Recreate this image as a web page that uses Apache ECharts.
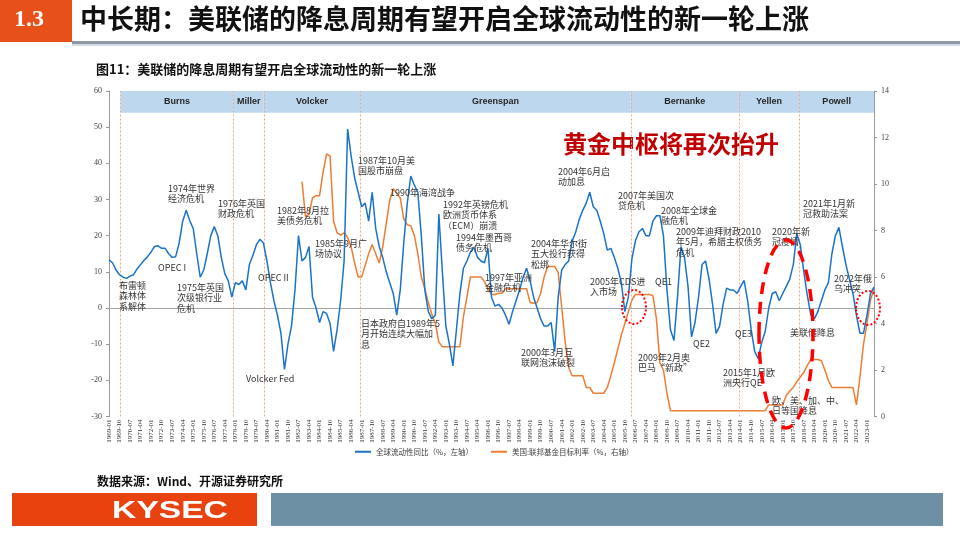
<!DOCTYPE html>
<html><head><meta charset="utf-8">
<script src="https://cdn.jsdelivr.net/npm/echarts@6/dist/echarts.min.js"></script>
<style>html,body{margin:0;padding:0;background:#fff}#c{width:960px;height:540px}</style>
</head><body><div id="c"></div>
<script>
// ---- data ----
const startYear = 1969;
const quarterMonths = ['01','04','07','10'];
const nQuarters = 219;
const categories = [];
for (let i = 0; i < nQuarters; i++) categories.push((startYear + Math.floor(i / 4)) + '-' + quarterMonths[i % 4]);

// 全球流动性同比（%，左轴）— quarterly readings
const liquidityYoY = [
 13.3,12.5,10.5,9.2,8.5,8.2,8.8,9.2,10.8,12,
 13.2,14.2,15.5,17,17.2,16.5,16.5,15,14,14.2,
 18,24,27,24.2,22,15,8.5,10.5,15,20,
 22.5,20,14,9.5,7.5,3,7,6.5,7.5,5,
 12,14.5,17.5,19,18,13,7,2,-2,-7,
 -17,-10,-5,5,20,13,14,17,3,0,
 -4,-1,-1.5,-4.3,-12,-6,2,13,49.5,42,
 36,32,28,29,24,32,22,17,14,10,
 7,4,-2,5,18,29,36.5,34,32,20,
 5,-1,-3,-2,26,10,-5,-10,-16,-6,
 4,11,13,15.5,16.8,14,13,12.5,16.5,3,
 0.5,1,0,-2,-4.5,-1,2,5,8.5,11,
 7.5,3,0,-3,-5,-5,-4,-12,3,10.5,
 12,13,18.5,21,24.5,27,29,32,28,27,
 24,20.5,16,16.5,14,11,7,-1,3,13.5,
 18.5,21,22,20,20,24,25.5,25.5,20,5,
 -6,-9,3,17,14,6,-8,-4,3,12,
 13,8,1,-7,-5,1,5.5,5,5,4,
 6,7.6,2,-6,-12,-14,-9.5,-6.5,0,4,
 4.5,2,4,6,8,12,20.5,17.5,10,3.5,
 -2,-3,-1,2,5,7,15,20,22.3,17,
 12,8,4,-2,-7,-7,-2,4,5.8
];

// 美国:联邦基金目标利率（%，右轴）
const fedFundsRate = [
 null,null,null,null,null,null,null,null,null,null,
 null,null,null,null,null,null,null,null,null,null,
 null,null,null,null,null,null,null,null,null,null,
 null,null,null,null,null,null,null,null,null,null,
 null,null,null,null,null,null,null,null,null,null,
 null,null,null,null,null,10.1,8.6,8.7,9.4,9.5,
 9.5,10.5,11.3,11.2,8.4,7.9,7.8,7.9,7.7,7.3,
 6.6,6.0,6.0,6.5,7.0,7.4,7.0,6.6,7.3,8.3,
 9.3,9.8,9.6,9.4,8.5,8.25,8.2,7.8,7.0,6.0,
 5.5,4.9,4.4,4.0,3.2,3.0,3.0,3.0,3.0,3.0,
 3.0,4.3,5.15,6.0,6.0,6.0,6.0,5.8,5.5,5.25,
 5.25,5.3,5.3,5.5,5.5,5.5,5.5,5.5,5.5,5.5,
 4.9,4.87,4.9,5.3,6.0,6.45,6.45,6.45,6.2,4.7,
 3.2,2.1,1.75,1.75,1.75,1.75,1.25,1.25,1.0,1.0,
 1.0,1.0,1.25,1.75,2.3,2.9,3.5,4.0,4.5,5.0,
 5.25,5.25,5.25,5.25,5.25,5.2,4.2,2.3,2.0,1.0,
 0.25,0.25,0.25,0.25,0.25,0.25,0.25,0.25,0.25,0.25,
 0.25,0.25,0.25,0.25,0.25,0.25,0.25,0.25,0.25,0.25,
 0.25,0.25,0.25,0.25,0.25,0.25,0.25,0.25,0.5,0.5,
 0.5,0.5,0.5,0.9,1.1,1.25,1.5,1.7,1.9,2.2,
 2.45,2.45,2.45,2.4,2.0,1.55,1.25,1.25,1.25,1.25,
 1.25,1.25,1.25,0.5,1.7,3.1,4.0,5.0,5.5
];

const leftTicks = { min: -30, max: 60, interval: 10 };
const rightTicks = { min: 0, max: 14, interval: 2 };
const eraNames = ['Burns','Miller','Volcker','Greenspan','Bernanke','Yellen','Powell'];
const eraStart = [3.3, 35.5, 44.1, 71.6, 148.7, 179.5, 196.7]; // in quarter index
const eraEnd = 218;
const seriesNames = ['全球流动性同比（%，左轴）', '美国:联邦基金目标利率（%，右轴）'];

// ---- annotations (text, left, top) ----
const notes = [
 ['1974年世界\n经济危机', 168, 183],
 ['1976年英国\n财政危机', 218, 198],
 ['1982年8月拉\n美债务危机', 277, 205],
 ['1985年9月广\n场协议', 315, 238],
 ['1987年10月美\n国股市崩盘', 358, 155],
 ['1990年海湾战争', 390, 187],
 ['1992年英镑危机\n欧洲货币体系\n（ECM）崩溃', 443, 199],
 ['1994年墨西哥\n债务危机', 456, 232],
 ['1997年亚洲\n金融危机', 485, 272],
 ['2004年华尔街\n五大投行获得\n松绑', 531, 238],
 ['2004年6月启\n动加息', 558, 166],
 ['2005年CDS进\n入市场', 590, 276],
 ['2007年美国次\n贷危机', 618, 190],
 ['2008年全球金\n融危机', 661, 205],
 ['2009年迪拜财政2010\n年5月，希腊主权债务\n危机', 676, 226],
 ['QE1', 655, 276],
 ['QE2', 693, 338],
 ['QE3', 735, 328],
 ['2020年新\n冠疫情', 772, 226],
 ['2021年1月新\n冠救助法案', 803, 198],
 ['2022年俄\n乌冲突', 834, 273],
 ['美联储降息', 790, 327],
 ['欧、美、加、中、\n日等国降息', 772, 395],
 ['2015年1月欧\n洲央行QE', 723, 367],
 ['2009年2月奥\n巴马“新政”', 638, 352],
 ['2000年3月互\n联网泡沫破裂', 521, 347],
 ['日本政府自1989年5\n月开始连续大幅加\n息', 361, 318],
 ['Volcker Fed', 246, 373],
 ['OPEC II', 258, 272],
 ['OPEC I', 158, 262],
 ['布雷顿\n森林体\n系解体', 119, 280],
 ['1975年英国\n次级银行业\n危机', 177, 282]
];

const CJK = '"Noto Sans CJK SC", sans-serif';
const SERIF = '"Liberation Serif", serif';

const graphics = [
 // header
 { type: 'rect', left: 0, top: 0, shape: { width: 72, height: 42 }, style: { fill: '#E8501A' } },
 { type: 'text', left: 14, top: 8, style: { text: '1.3', fill: '#fff', font: 'bold 24px ' + SERIF } },
 { type: 'text', left: 80, top: 5, style: { text: '中长期：美联储的降息周期有望开启全球流动性的新一轮上涨', fill: '#111', font: 'bold 27px ' + CJK } },
 { type: 'rect', left: 72, top: 41, shape: { width: 888, height: 3 }, style: { fill: '#8C9AA8' } },
 { type: 'rect', left: 72, top: 44, shape: { width: 888, height: 2 }, style: { fill: '#D5DAE0' } },
 // caption
 { type: 'text', left: 96, top: 63, style: { text: '图11：美联储的降息周期有望开启全球流动性的新一轮上涨', fill: '#111', font: 'bold 13px ' + CJK } },
 // source
 { type: 'text', left: 97, top: 475, style: { text: '数据来源：Wind、开源证券研究所', fill: '#111', font: 'bold 12px ' + CJK } },
 // footer
 { type: 'rect', left: 12, top: 493, shape: { width: 245, height: 33 }, style: { fill: '#E8420E' } },
 { type: 'text', x: 170, y: 511, scaleX: 1.4, style: { x: 0, y: 0, text: 'KYSEC', fill: '#fff', font: 'bold 24px "Liberation Sans", sans-serif', textAlign: 'center', textVerticalAlign: 'middle' } },
 { type: 'rect', left: 271, top: 493, shape: { width: 672, height: 33 }, style: { fill: '#6D90A4' } },
 // big red text
 { type: 'text', left: 563, top: 132, style: { text: '黄金中枢将再次抬升', fill: '#C00000', font: 'bold 24px ' + CJK } },
 // ellipses
 { type: 'ellipse', shape: { cx: 634, cy: 307, rx: 12, ry: 17 }, style: { fill: null, stroke: '#FF0000', lineWidth: 2, lineDash: [2, 2] }, z: 50 },
 { type: 'ellipse', shape: { cx: 868, cy: 308, rx: 12, ry: 17 }, style: { fill: null, stroke: '#FF0000', lineWidth: 2, lineDash: [2, 2] }, z: 50 },
 { type: 'ellipse', shape: { cx: 786, cy: 334, rx: 27, ry: 94 }, style: { fill: null, stroke: '#FF0000', lineWidth: 3.5, lineDash: [12, 8] }, z: 50 }
];
notes.forEach(n => graphics.push({ type: 'text', left: n[1], top: n[2], z: 40,
  style: { text: n[0], fill: '#333', font: '9px ' + CJK, lineHeight: 10.5 } }));

const eraAreas = eraNames.map((name, i) => [
  { name: name, xAxis: eraStart[i], yAxis: 54 },
  { xAxis: i < eraNames.length - 1 ? eraStart[i + 1] : eraEnd, yAxis: 60 }
]);

const chart = echarts.init(document.getElementById('c'), null, { renderer: 'canvas' });
chart.setOption({
  animation: false,
  backgroundColor: '#fff',
  grid: { left: 109, right: 86, top: 91, bottom: 123.5 },
  legend: {
    data: seriesNames, left: 350, top: 443, icon: 'rect', itemWidth: 16, itemHeight: 2, itemGap: 18,
    textStyle: { fontSize: 7.5, color: '#404040', fontFamily: CJK }
  },
  xAxis: [
    { type: 'category', data: categories, boundaryGap: false,
      axisLine: { show: false }, axisTick: { show: false }, splitLine: { show: false },
      axisLabel: { interval: 2, rotate: 90, fontSize: 7, color: '#333', fontFamily: SERIF, margin: 3 } },
    { type: 'value', min: 0, max: eraEnd, show: false }
  ],
  yAxis: [
    { type: 'value', min: leftTicks.min, max: leftTicks.max, interval: leftTicks.interval, position: 'left',
      axisLine: { show: true, onZero: false, lineStyle: { color: '#999' } },
      axisTick: { show: true, length: 3, lineStyle: { color: '#999' } },
      splitLine: { show: false },
      axisLabel: { fontSize: 8, color: '#404040', fontFamily: SERIF, margin: 7 } },
    { type: 'value', min: rightTicks.min, max: rightTicks.max, interval: rightTicks.interval, position: 'right',
      axisLine: { show: true, onZero: false, lineStyle: { color: '#999' } },
      axisTick: { show: true, length: 3, lineStyle: { color: '#999' } },
      splitLine: { show: false },
      axisLabel: { fontSize: 8, color: '#404040', fontFamily: SERIF, margin: 7 } }
  ],
  series: [
    { name: '_eras', type: 'line', xAxisIndex: 1, yAxisIndex: 0, data: [[0, -30]], symbol: 'none',
      lineStyle: { opacity: 0 }, silent: true, z: 1,
      markArea: { silent: true, itemStyle: { color: '#BDD7EE' },
        label: { show: true, position: 'inside', fontSize: 9, fontWeight: 'bold', color: '#262626', fontFamily: '"Liberation Sans", sans-serif' },
        data: eraAreas },
      markLine: { silent: true, symbol: 'none', label: { show: false },
        lineStyle: { color: '#F4A582', type: [2, 2], width: 1 },
        data: eraStart.map(s => ({ xAxis: s })) } },
    { name: seriesNames[0], type: 'line', xAxisIndex: 0, yAxisIndex: 0, data: liquidityYoY, symbol: 'none',
      lineStyle: { color: '#1A73C6', width: 1.5 }, itemStyle: { color: '#1A73C6' }, z: 5,
      markLine: { silent: true, symbol: 'none', label: { show: false },
        lineStyle: { color: '#A6A6A6', type: 'solid', width: 1 }, data: [{ yAxis: 0 }] } },
    { name: seriesNames[1], type: 'line', xAxisIndex: 0, yAxisIndex: 1, data: fedFundsRate, symbol: 'none',
      lineStyle: { color: '#ED7D31', width: 1.5 }, itemStyle: { color: '#ED7D31' }, z: 4 }
  ],
  graphic: graphics
});
</script></body></html>
